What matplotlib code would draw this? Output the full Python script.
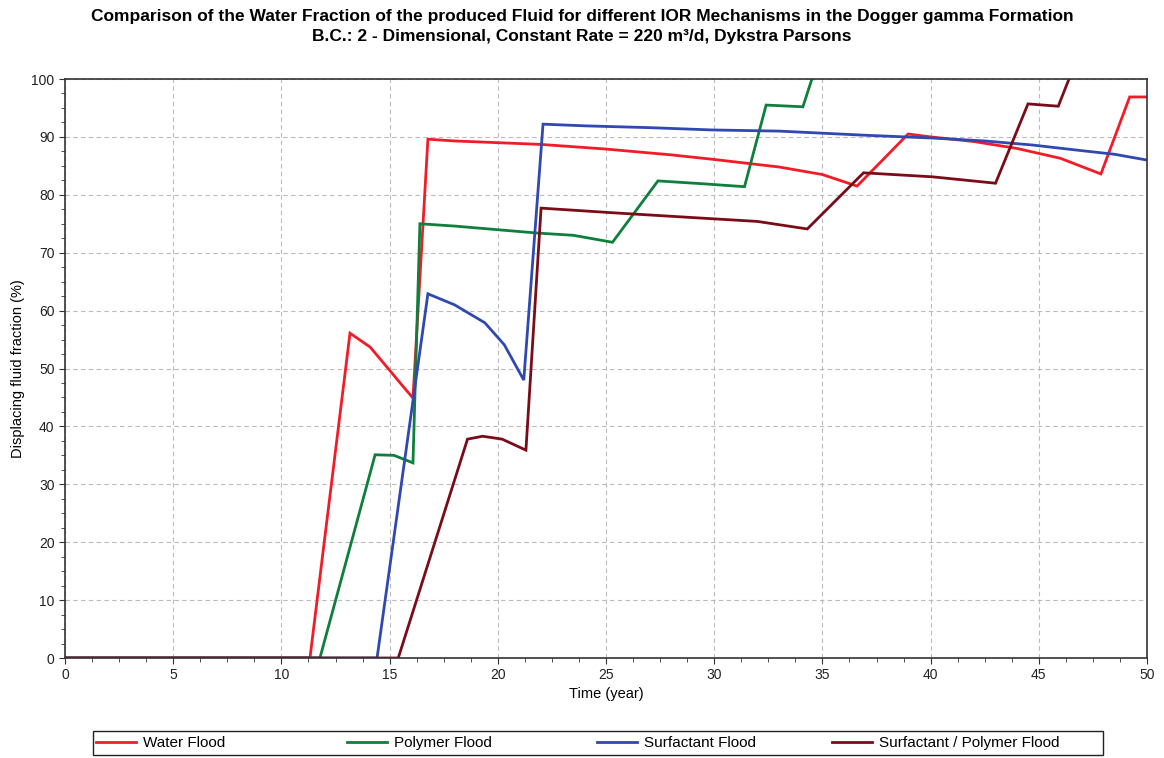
import matplotlib
matplotlib.use("Agg")
import matplotlib.pyplot as plt
from matplotlib.ticker import MultipleLocator
from matplotlib.patches import Rectangle

plt.rcParams['font.family'] = ['Liberation Sans', 'DejaVu Sans']

water_t = [0, 11.32, 13.17, 14.1, 15.0, 15.6, 16.08, 16.77, 18, 20, 22, 25, 28, 30, 33, 35, 36.6, 38.96, 40, 42, 44, 46, 47.87, 49.2, 50]
water_y = [0, 0, 56.1, 53.7, 49.7, 47.0, 44.9, 89.6, 89.3, 89.0, 88.7, 87.9, 86.9, 86.1, 84.8, 83.5, 81.5, 90.5, 90.0, 89.2, 88.0, 86.3, 83.6, 96.9, 96.9]

polymer_t = [0, 11.78, 14.33, 15.2, 16.08, 16.4, 18, 21.8, 23.5, 25.3, 27.4, 29.5, 31.4, 32.4, 34.1, 34.6]
polymer_y = [0, 0, 35.1, 35.0, 33.7, 75.0, 74.6, 73.4, 73.0, 71.8, 82.4, 81.9, 81.4, 95.5, 95.2, 101]

surf_t = [0, 14.42, 16.77, 18.0, 19.4, 20.3, 21.2, 22.09, 24.1, 27, 29.9, 33, 36.9, 40.1, 42.5, 44.7, 46.8, 48.5, 50]
surf_y = [0, 0, 62.9, 61.0, 57.9, 54.1, 48.0, 92.2, 91.9, 91.6, 91.2, 91.0, 90.3, 89.8, 89.3, 88.6, 87.7, 87.0, 86.0]

sp_t = [0, 15.4, 18.6, 19.3, 20.2, 21.3, 22.0, 25.3, 29.3, 32, 34.3, 36.9, 40.1, 43.0, 44.5, 45.9, 46.5]
sp_y = [0, 0, 37.8, 38.3, 37.8, 35.9, 77.7, 76.9, 76.0, 75.4, 74.1, 83.8, 83.1, 82.0, 95.7, 95.3, 101]

labels = ['Water Flood', 'Polymer Flood', 'Surfactant Flood', 'Surfactant / Polymer Flood']
colors = ['#f21c28', '#0f7f3c', '#3048b0', '#7a0c18']

W, H = 1164, 758
fig = plt.figure(figsize=(W/100, H/100), dpi=100)
ax = fig.add_axes([65/W, 1-658/H, (1147-65)/W, (658-79)/H])

series = [(water_t, water_y), (polymer_t, polymer_y), (surf_t, surf_y), (sp_t, sp_y)]
handles = []
for (t, y), lab, c in zip(series, labels, colors):
    h, = ax.plot(t, y, color=c, lw=2.0, label=lab, solid_joinstyle='miter')
    handles.append(h)

ax.set_xlim(0, 50)
ax.set_ylim(0, 100)
ax.xaxis.set_major_locator(MultipleLocator(5))
ax.xaxis.set_minor_locator(MultipleLocator(1.25))
ax.yaxis.set_major_locator(MultipleLocator(10))
ax.yaxis.set_minor_locator(MultipleLocator(2.5))
ax.tick_params(which='both', direction='out', labelsize=10, colors='#333333', labelcolor='#222222')
ax.tick_params(which='major', length=4)
ax.tick_params(which='minor', length=3)
ax.grid(True, which='major', linestyle=(0, (4, 3)), color='#bbbbbb', lw=0.8)
ax.set_axisbelow(True)
for s in ax.spines.values():
    s.set_color('#333333')
    s.set_linewidth(1.2)

ax.set_xlabel('Time (year)', fontsize=10.5, labelpad=3)
ax.set_ylabel('Displacing fluid fraction (%)', fontsize=10.5, labelpad=5)

fig.text(0.5, 1-16/H, 'Comparison of the Water Fraction of the produced Fluid for different IOR Mechanisms in the Dogger gamma Formation',
         ha='center', va='center', fontsize=12.5, fontweight='bold')
fig.text(0.5, 1-36/H, 'B.C.: 2 - Dimensional, Constant Rate = 220 m³/d, Dykstra Parsons',
         ha='center', va='center', fontsize=12.5, fontweight='bold')

# legend frame
fig.patches.append(Rectangle((93/W, 1-755/H), (1103-93)/W, 24/H, transform=fig.transFigure,
                             fill=True, facecolor='white', edgecolor='#222222', lw=1.0, zorder=1))
leg_x = [96, 347, 597, 832]
for h, lab, x in zip(handles, labels, leg_x):
    fig.legend(handles=[h], labels=[lab], loc='center left', bbox_to_anchor=(x/W, 1-743/H),
               frameon=False, fontsize=11, handlelength=2.6, handletextpad=0.45,
               borderaxespad=0, borderpad=0)

fig.savefig('out.png', dpi=100)
